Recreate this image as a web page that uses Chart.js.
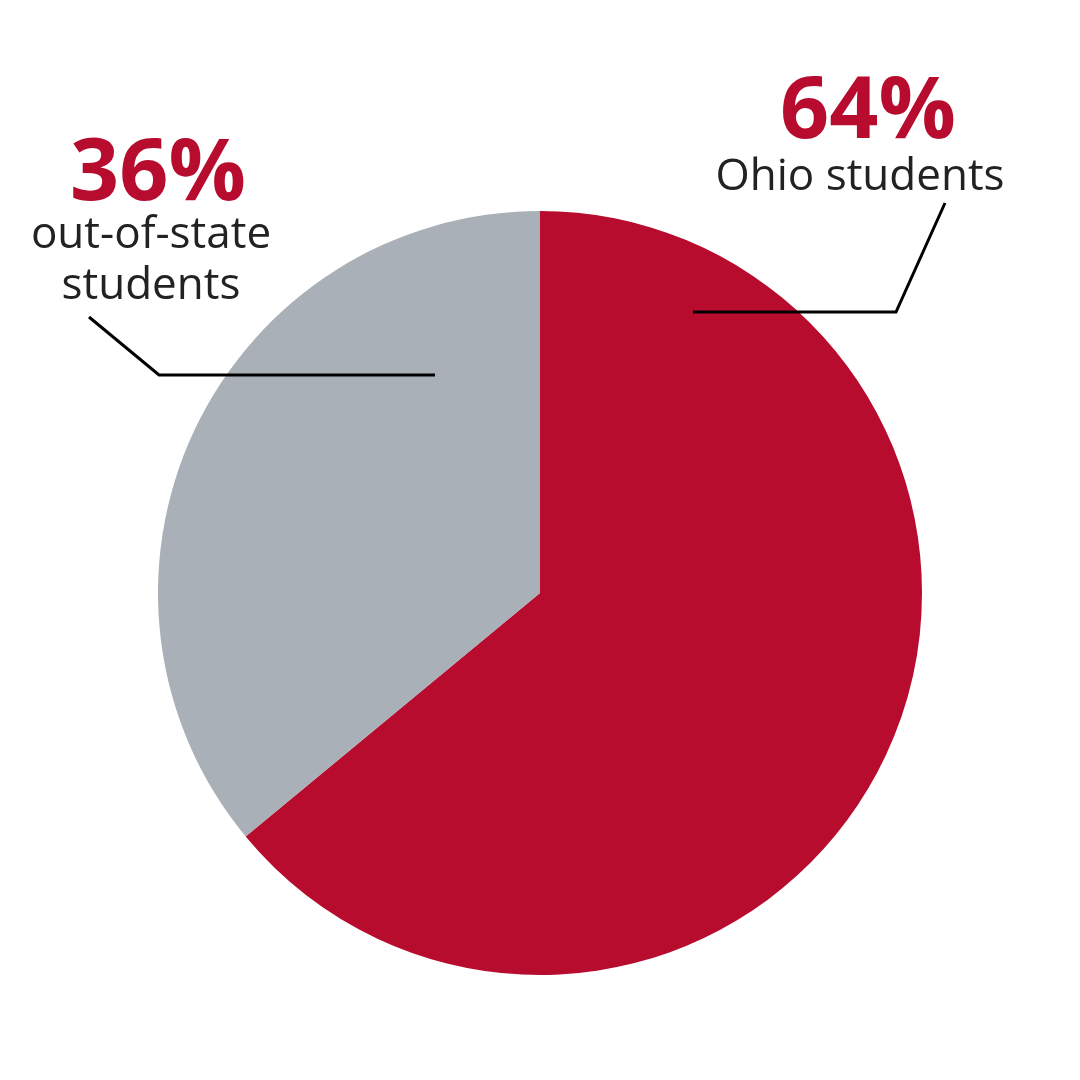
<!DOCTYPE html>
<html><head><meta charset="utf-8">
<script src="https://cdn.jsdelivr.net/npm/chart.js@4"></script>
<style>html,body{margin:0;background:#fff}#c{display:block}</style>
</head><body>
<canvas id="c" width="1080" height="1080"></canvas>
<script>
const categories = ["Ohio students", "out-of-state students"];
const values = [64, 36];
const colors = ["#B80C2F", "#A9B0B7"];

const labelPlugin = {
  id: 'labels',
  afterDraw(chart) {
    const ctx = chart.ctx;
    ctx.save();
    ctx.strokeStyle = '#000'; ctx.lineWidth = 3;
    ctx.beginPath(); ctx.moveTo(693,312); ctx.lineTo(896,312); ctx.lineTo(945,203); ctx.stroke();
    ctx.beginPath(); ctx.moveTo(435,375); ctx.lineTo(159,375); ctx.lineTo(89,317); ctx.stroke();
    ctx.textAlign = 'center'; ctx.textBaseline = 'alphabetic';
    ctx.fillStyle = '#B80C2F';
    ctx.font = 'bold 86px "Open Sans", sans-serif';
    ctx.fillText(values[0] + '%', 868, 138);
    ctx.fillText(values[1] + '%', 158, 200);
    ctx.fillStyle = '#222';
    ctx.font = '44px "Open Sans", sans-serif';
    ctx.fillText('Ohio students', 860, 190);
    ctx.fillText('out-of-state', 151, 248);
    ctx.fillText('students', 151, 299);
    ctx.restore();
  }
};

new Chart(document.getElementById('c'), {
  type: 'pie',
  data: { labels: categories, datasets: [{ data: values, backgroundColor: colors, borderWidth: 0 }] },
  options: {
    responsive: false, animation: false,
    layout: { padding: { top: 211, bottom: 105, left: 158, right: 158 } },
    plugins: { legend: { display: false }, tooltip: { enabled: false } }
  },
  plugins: [labelPlugin]
});
</script>
</body></html>
